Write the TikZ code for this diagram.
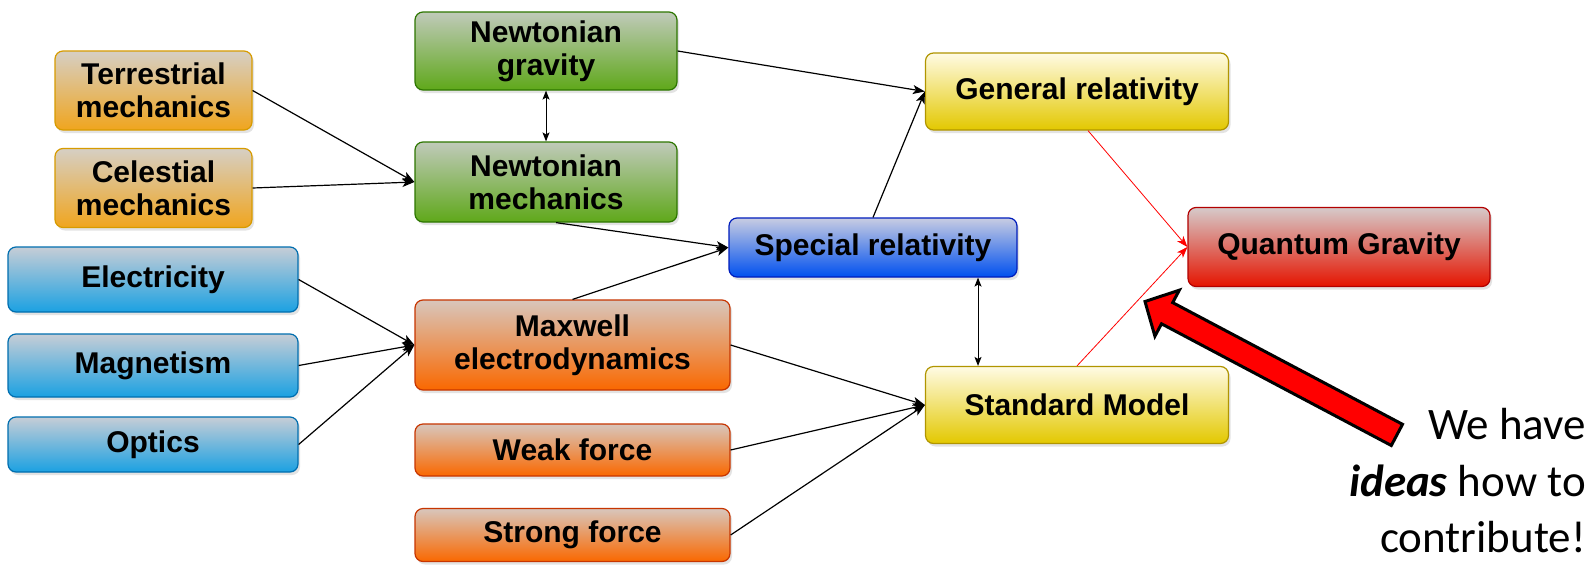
\documentclass[tikz,border=0pt]{standalone}
\usepackage{fontspec}
\newfontfamily\lsans{Liberation Sans}
\newfontfamily\calib{Carlito}
\usetikzlibrary{arrows.meta,shadows}
\definecolor{goldT}{HTML}{D6CFC4}
\definecolor{goldB}{HTML}{F0A51E}
\definecolor{goldD}{HTML}{D79B00}
\definecolor{greenT}{HTML}{C0CABA}
\definecolor{greenB}{HTML}{5FA81A}
\definecolor{greenD}{HTML}{2D7600}
\definecolor{blueT}{HTML}{C6CDD6}
\definecolor{blueB}{HTML}{1BA1E2}
\definecolor{blueD}{HTML}{006EAF}
\definecolor{orT}{HTML}{D8C6BC}
\definecolor{orB}{HTML}{FA6800}
\definecolor{orD}{HTML}{C73500}
\definecolor{yeT}{HTML}{FFFBE4}
\definecolor{yeB}{HTML}{E3C800}
\definecolor{yeD}{HTML}{B09500}
\definecolor{sbT}{HTML}{C8CCE2}
\definecolor{sbB}{HTML}{0050EF}
\definecolor{sbD}{HTML}{001DBC}
\definecolor{rdT}{HTML}{D6CACA}
\definecolor{rdB}{HTML}{E51400}
\definecolor{rdD}{HTML}{B20000}
\tikzset{
  box/.style={rectangle, rounded corners=8pt, line width=1.2pt, inner sep=0pt,
    align=center, font=\lsans\bfseries\fontsize{30}{33}\selectfont,
    drop shadow={opacity=0.22, shadow xshift=2pt, shadow yshift=-3pt}},
  goldbox/.style={box, draw=goldD, top color=goldT, bottom color=goldB},
  greenbox/.style={box, draw=greenD, top color=greenT, bottom color=greenB},
  bluebox/.style={box, draw=blueD, top color=blueT, bottom color=blueB},
  orbox/.style={box, draw=orD, top color=orT, bottom color=orB},
  yebox/.style={box, draw=yeD, top color=yeT, bottom color=yeB},
  sbbox/.style={box, draw=sbD, top color=sbT, bottom color=sbB},
  rdbox/.style={box, draw=rdD, top color=rdT, bottom color=rdB},
  conn/.style={-{Stealth[length=12pt,width=9pt,inset=3pt]}, line width=1.2pt, black},
  dbl/.style={{Stealth[length=9pt,width=7pt,inset=2pt]}-{Stealth[length=9pt,width=7pt,inset=2pt]}, line width=1pt, black},
  redconn/.style={-{Stealth[length=11pt,width=8pt,inset=3pt]}, line width=0.8pt, red},
  note/.style={anchor=base east, inner sep=0pt, font=\calib\fontsize{45}{57}\selectfont}
}
\begin{document}
\begin{tikzpicture}[x=1pt,y=-1pt]
\useasboundingbox[fill=white] (0,0) rectangle (1595,576);
% nodes
\node[greenbox, minimum width=262pt, minimum height=78pt] (NG) at (546,51) {Newtonian\\gravity};
\node[goldbox, minimum width=197pt, minimum height=79pt] (TM) at (153.5,90.5) {Terrestrial\\mechanics};
\node[goldbox, minimum width=197pt, minimum height=79pt] (CM) at (153.5,188) {Celestial\\mechanics};
\node[greenbox, minimum width=262pt, minimum height=80pt] (NM) at (546,182) {Newtonian\\mechanics};
\node[yebox, minimum width=303pt, minimum height=77pt] (GR) at (1077,91.5) {General relativity};
\node[sbbox, minimum width=288pt, minimum height=59pt] (SR) at (873,247.5) {Special relativity};
\node[rdbox, minimum width=302pt, minimum height=79pt] (QG) at (1339,247) {Quantum Gravity};
\node[bluebox, minimum width=290pt, minimum height=65pt] (El) at (153,279.5) {Electricity};
\node[bluebox, minimum width=290pt, minimum height=63pt] (Mg) at (153,365.5) {Magnetism};
\node[bluebox, minimum width=290pt, minimum height=55pt] (Op) at (153,444.5) {Optics};
\node[orbox, minimum width=315pt, minimum height=90pt] (Mx) at (572.5,345) {Maxwell\\electrodynamics};
\node[orbox, minimum width=315pt, minimum height=52pt] (WF) at (572.5,450) {Weak force};
\node[orbox, minimum width=315pt, minimum height=53pt] (SF) at (572.5,535) {Strong force};
\node[yebox, minimum width=303pt, minimum height=77pt] (SM) at (1077,405) {Standard Model};
% connectors
\draw[conn] (TM.east) -- (NM.west);
\draw[conn] (CM.east) -- (NM.west);
\draw[dbl] (NG.south) -- (NM.north);
\draw[conn] (NG.east) -- (GR.west);
\draw[conn] ([xshift=10pt]NM.south) -- (SR.west);
\draw[conn] (Mx.north) -- (SR.west);
\draw[conn] (SR.north) -- (GR.west);
\draw[dbl] ([xshift=105pt]SR.south) -- ([xshift=-99pt]SM.north);
\draw[conn] (El.east) -- (Mx.west);
\draw[conn] (Mg.east) -- (Mx.west);
\draw[conn] (Op.east) -- (Mx.west);
\draw[conn] (Mx.east) -- (SM.west);
\draw[conn] (WF.east) -- (SM.west);
\draw[conn] (SF.east) -- (SM.west);
\draw[redconn] ([xshift=11pt]GR.south) -- (QG.west);
\draw[redconn] (SM.north) -- (QG.west);
% big red arrow
\draw[line width=3pt, fill=red, line join=miter, miter limit=4]
  (1145,301.5) -- (1179.3,290.2) -- (1172.7,302.6) -- (1402.5,424.3)
  -- (1391.3,445.5) -- (1161.5,323.8) -- (1154.9,336.2) -- cycle;
% note text
\node[note] (t1) at (1586,439) {We have};
\node[note] (t2) at (1586,496) {\textbf{\textit{ideas}} how to};
\node[note] (t3) at (1586,552) {contribute!};
\end{tikzpicture}
\end{document}
